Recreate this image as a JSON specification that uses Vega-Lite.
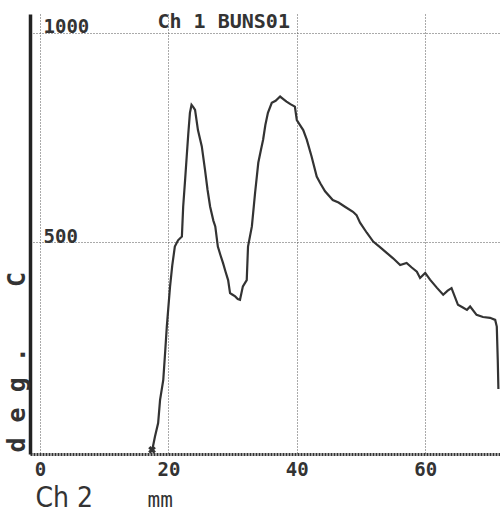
{
  "$schema": "https://vega.github.io/schema/vega-lite/v6.json",
  "width": 470,
  "height": 440,
  "autosize": {"type": "none"},
  "padding": {"left": 30, "top": 14, "right": 0, "bottom": 59},
  "background": "white",
  "config": {"view": {"stroke": null}},
  "datasets": {
    "trace": [
      {"mm": 17.45, "deg": 2}, {"mm": 17.9, "deg": 36}, {"mm": 18.4, "deg": 69}, {"mm": 18.7, "deg": 124},
      {"mm": 19.2, "deg": 172}, {"mm": 19.5, "deg": 240}, {"mm": 19.75, "deg": 299}, {"mm": 20.25, "deg": 394},
      {"mm": 20.6, "deg": 445}, {"mm": 21.0, "deg": 490}, {"mm": 21.5, "deg": 505}, {"mm": 22.1, "deg": 514},
      {"mm": 22.3, "deg": 585}, {"mm": 22.6, "deg": 649}, {"mm": 22.85, "deg": 705}, {"mm": 23.1, "deg": 760},
      {"mm": 23.35, "deg": 809}, {"mm": 23.6, "deg": 828}, {"mm": 23.9, "deg": 822}, {"mm": 24.15, "deg": 816},
      {"mm": 24.6, "deg": 768}, {"mm": 25.2, "deg": 729}, {"mm": 25.7, "deg": 673}, {"mm": 26.1, "deg": 625},
      {"mm": 26.5, "deg": 585}, {"mm": 27.0, "deg": 552}, {"mm": 27.3, "deg": 538}, {"mm": 27.7, "deg": 490},
      {"mm": 28.1, "deg": 470}, {"mm": 28.5, "deg": 451}, {"mm": 28.9, "deg": 430}, {"mm": 29.3, "deg": 410},
      {"mm": 29.6, "deg": 379}, {"mm": 30.0, "deg": 375}, {"mm": 30.4, "deg": 371}, {"mm": 30.8, "deg": 365},
      {"mm": 31.15, "deg": 363}, {"mm": 31.6, "deg": 395}, {"mm": 32.2, "deg": 410}, {"mm": 32.4, "deg": 490},
      {"mm": 33.0, "deg": 538}, {"mm": 33.5, "deg": 618}, {"mm": 34.0, "deg": 690}, {"mm": 34.4, "deg": 720},
      {"mm": 34.75, "deg": 745}, {"mm": 35.1, "deg": 780}, {"mm": 35.5, "deg": 809}, {"mm": 36.1, "deg": 833},
      {"mm": 36.7, "deg": 838}, {"mm": 37.4, "deg": 848}, {"mm": 37.9, "deg": 842}, {"mm": 38.4, "deg": 836},
      {"mm": 39.0, "deg": 830}, {"mm": 39.7, "deg": 824}, {"mm": 40.0, "deg": 792}, {"mm": 40.5, "deg": 780},
      {"mm": 41.0, "deg": 768}, {"mm": 41.55, "deg": 745}, {"mm": 42.3, "deg": 705}, {"mm": 43.1, "deg": 657},
      {"mm": 43.7, "deg": 640}, {"mm": 44.4, "deg": 622}, {"mm": 45.6, "deg": 601}, {"mm": 46.5, "deg": 595},
      {"mm": 47.5, "deg": 585}, {"mm": 48.75, "deg": 573}, {"mm": 49.3, "deg": 565}, {"mm": 49.85, "deg": 547},
      {"mm": 50.9, "deg": 523}, {"mm": 51.9, "deg": 502}, {"mm": 53.0, "deg": 488}, {"mm": 54.0, "deg": 475},
      {"mm": 55.0, "deg": 462}, {"mm": 56.1, "deg": 446}, {"mm": 57.1, "deg": 451}, {"mm": 57.9, "deg": 440},
      {"mm": 58.7, "deg": 430}, {"mm": 59.2, "deg": 415}, {"mm": 60.0, "deg": 427}, {"mm": 60.75, "deg": 411},
      {"mm": 61.8, "deg": 392}, {"mm": 62.8, "deg": 375}, {"mm": 63.5, "deg": 385}, {"mm": 64.1, "deg": 391},
      {"mm": 65.1, "deg": 351}, {"mm": 65.8, "deg": 345}, {"mm": 66.5, "deg": 339}, {"mm": 67.0, "deg": 347},
      {"mm": 68.0, "deg": 327}, {"mm": 69.0, "deg": 322}, {"mm": 70.1, "deg": 320}, {"mm": 70.9, "deg": 315},
      {"mm": 71.15, "deg": 299}, {"mm": 71.3, "deg": 220}, {"mm": 71.4, "deg": 150}
    ],
    "start": [{"mm": 17.45, "deg": 5}]
  },
  "resolve": {"axis": {"x": "independent"}},
  "layer": [
    {
      "data": {"name": "trace"},
      "mark": {"type": "line", "color": "#333", "strokeWidth": 2.2, "interpolate": "linear"},
      "encoding": {
        "x": {
          "field": "mm", "type": "quantitative",
          "scale": {"domain": [-1.56, 71.65], "nice": false, "zero": false},
          "axis": {
            "orient": "bottom", "values": [0, 20, 40, 60],
            "grid": true, "gridColor": "#555", "gridDash": [1, 2], "gridWidth": 1,
            "ticks": false, "tickSize": 0,
            "domain": true, "domainColor": "#333", "domainWidth": 3, "domainDash": [2, 1],
            "labelFont": "DejaVu Sans Mono", "labelFontWeight": "bold", "labelFontSize": 19,
            "labelColor": "#333", "labelBaseline": "alphabetic", "labelPadding": 21, "labelFlush": false,
            "title": "mm", "titleFont": "DejaVu Sans Mono", "titleFontSize": 21, "titleFontWeight": "normal",
            "titleColor": "#333", "titleX": 117, "titleY": 52, "titleAlign": "left", "titleBaseline": "alphabetic"
          }
        },
        "y": {
          "field": "deg", "type": "quantitative",
          "scale": {"domain": [-5, 1045], "nice": false, "zero": false},
          "axis": {
            "orient": "left", "values": [500, 1000], "format": "d",
            "grid": true, "gridColor": "#555", "gridDash": [1, 2], "gridWidth": 1,
            "ticks": false, "tickSize": 0,
            "domain": true, "domainColor": "#222", "domainWidth": 3.5,
            "labelFont": "DejaVu Sans Mono", "labelFontWeight": "bold", "labelFontSize": 19,
            "labelColor": "#333", "labelAlign": "left", "labelPadding": -13, "labelBaseline": "alphabetic", "labelDy": -3,
            "labelFlush": false,
            "title": "d e g . \u00a0\u00a0\u00a0C", "titleFont": "DejaVu Sans Mono", "titleFontSize": 25, "titleFontWeight": "bold",
            "titleColor": "#333", "titleAngle": 270, "titleX": -14, "titleY": 438, "titleAlign": "left", "titleBaseline": "middle"
          }
        }
      }
    },
    {
      "data": {"name": "start"},
      "mark": {"type": "point", "shape": "cross", "angle": 45, "filled": true, "size": 60, "color": "#333", "opacity": 1},
      "encoding": {
        "x": {
          "field": "mm", "type": "quantitative",
          "axis": {
            "orient": "top", "labels": false, "ticks": false, "domain": false, "grid": false,
            "title": "Ch 1 BUNS01", "titleFont": "DejaVu Sans Mono", "titleFontSize": 20, "titleFontWeight": "bold",
            "titleColor": "#333", "titleX": 127, "titleY": 13, "titleAlign": "left", "titleBaseline": "alphabetic"
          }
        },
        "y": {"field": "deg", "type": "quantitative"}
      }
    },
    {
      "data": {"name": "start"},
      "mark": {"type": "point", "opacity": 0},
      "encoding": {
        "x": {
          "field": "mm", "type": "quantitative",
          "axis": {
            "orient": "bottom", "labels": false, "ticks": false, "domain": false, "grid": false,
            "title": "Ch 2", "titleFont": "Liberation Sans Narrow, DejaVu Sans Condensed, sans-serif", "titleFontSize": 28,
            "titleFontWeight": "normal", "titleColor": "#333", "titleX": 5, "titleY": 52, "titleAlign": "left", "titleBaseline": "alphabetic"
          }
        },
        "y": {"field": "deg", "type": "quantitative"}
      }
    }
  ]
}
